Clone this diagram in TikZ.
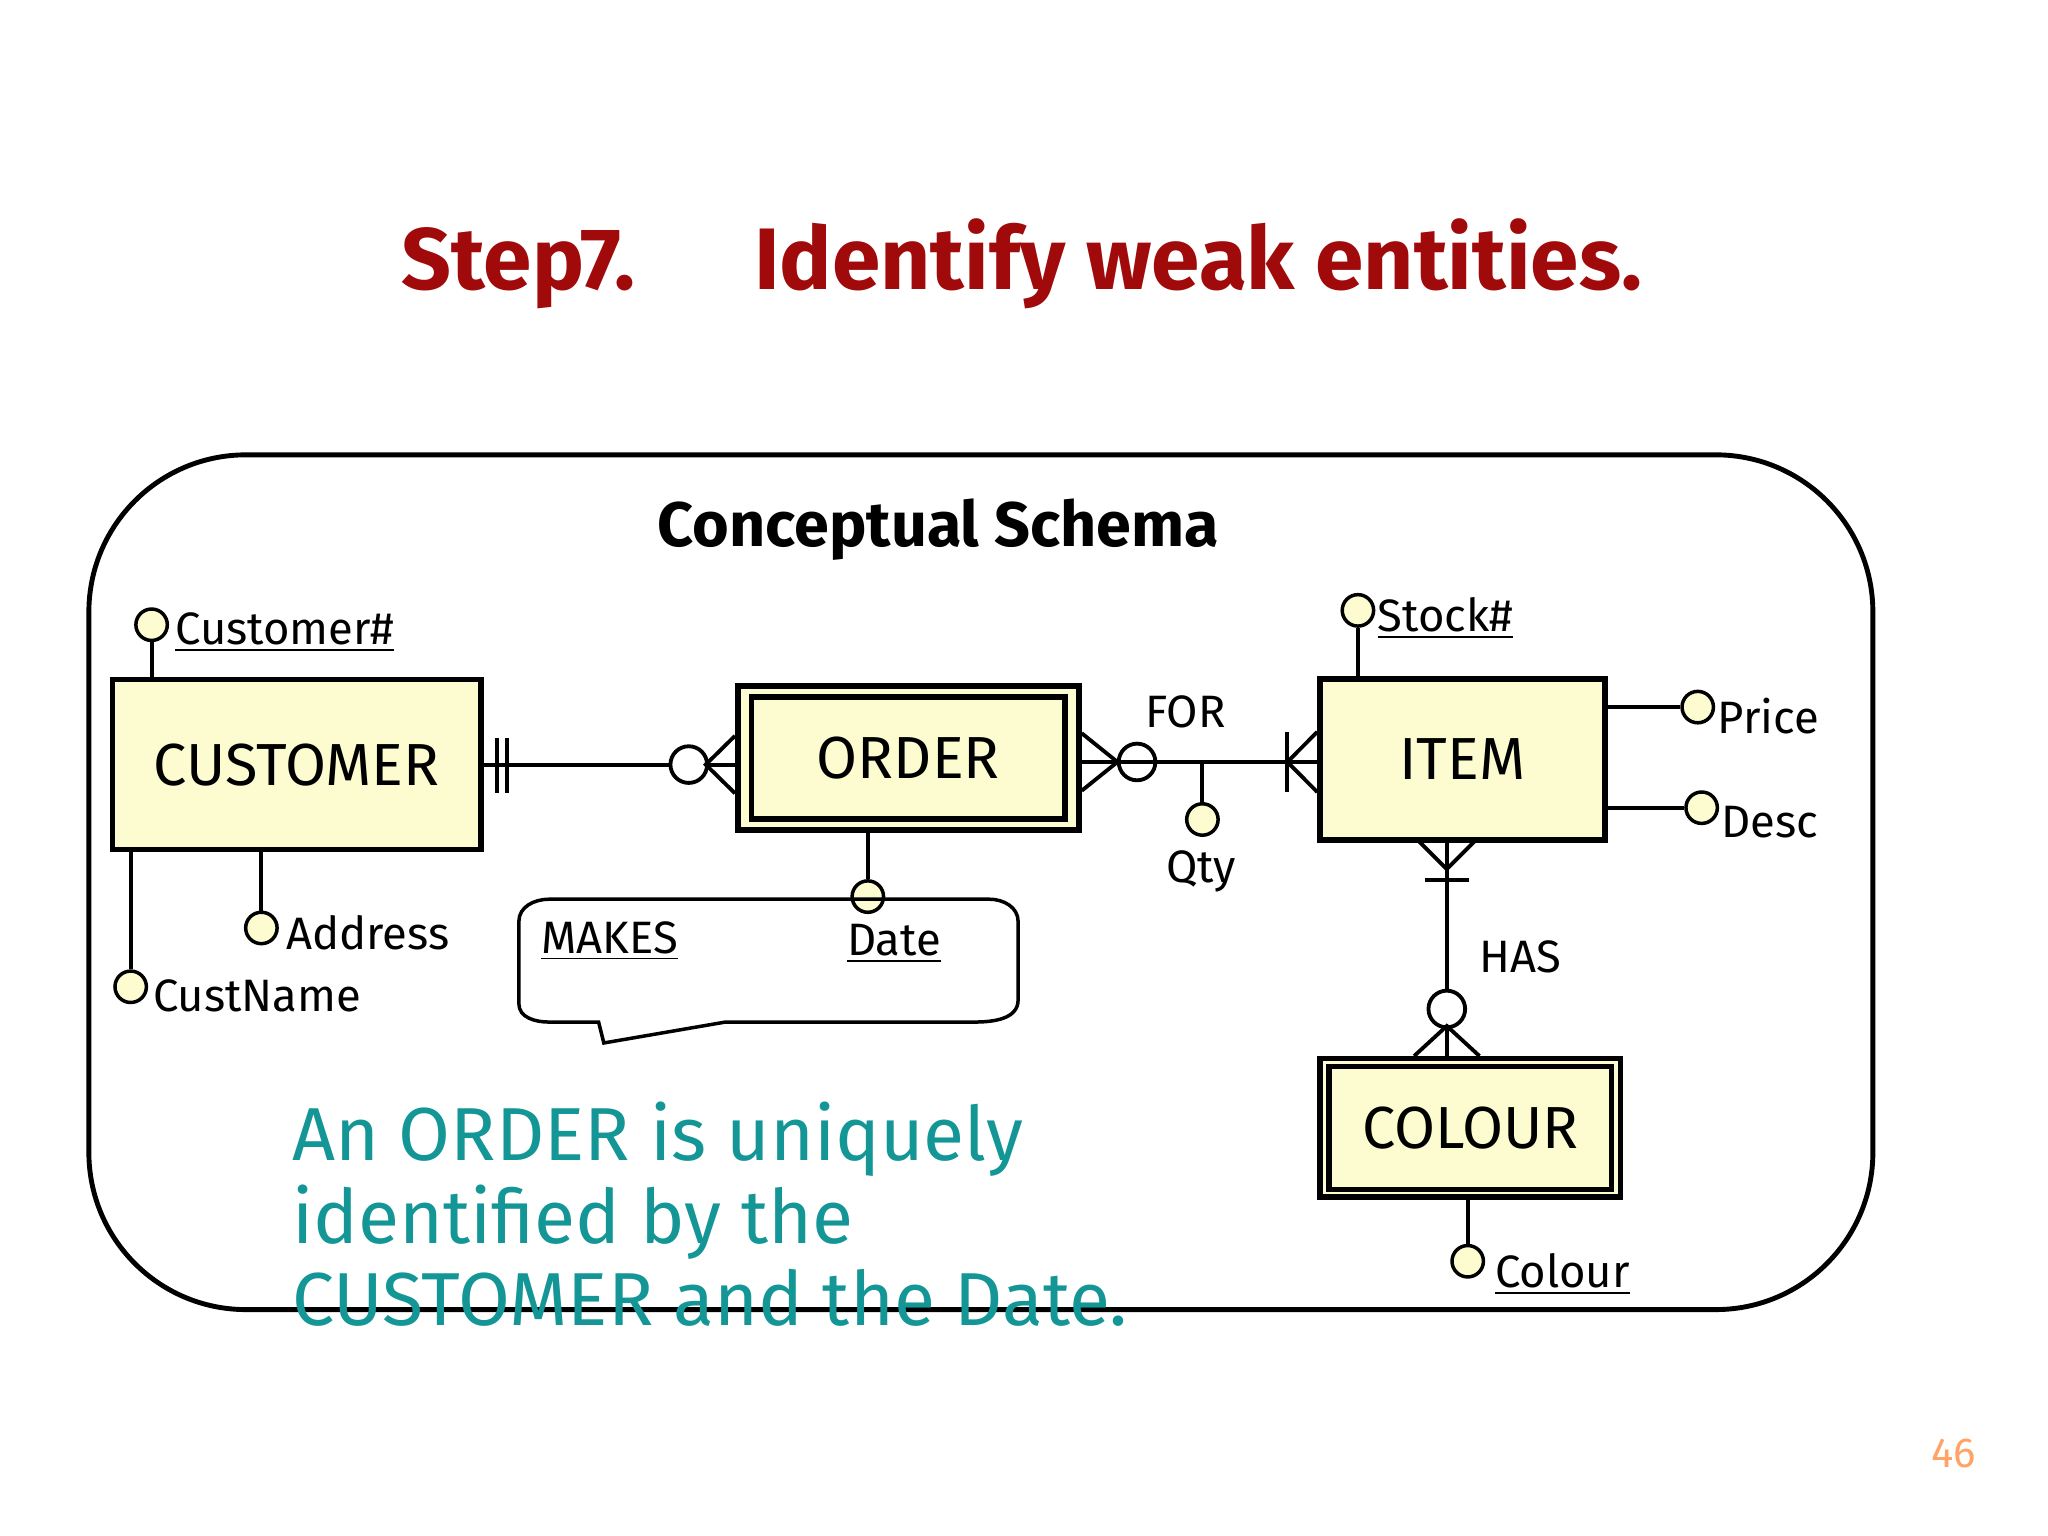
\documentclass[tikz,border=0pt]{standalone}
\usepackage{fontspec}
\setmainfont{Fira Sans}
\usetikzlibrary{positioning,calc}
\definecolor{ent}{RGB}{252,252,208}
\definecolor{title}{RGB}{160,10,10}
\definecolor{teal}{RGB}{20,150,150}
\begin{document}
\begin{tikzpicture}[x=0.01316cm,y=-0.01316cm,line width=1.1pt,
  entity/.style={draw,line width=1.6pt,fill=ent,inner sep=0pt,font=\fontsize{17}{17}\selectfont},
  wentity/.style={draw,line width=1.6pt,fill=ent,inner sep=0pt},
  inner/.style={draw,line width=1.6pt,inner sep=0pt,font=\fontsize{17}{17}\selectfont},
  attr/.style={circle,draw,fill=ent,inner sep=0pt,minimum size=9pt,line width=1pt},
  lab/.style={font=\fontsize{13}{13}\selectfont,anchor=west,inner sep=1pt},
  circ/.style={circle,draw,fill=white,inner sep=0pt,minimum size=10.5pt,line width=1.1pt}]
\useasboundingbox (0,0) rectangle (1567,1175);
\node[font=\bfseries\fontsize{25}{25}\selectfont,text=title] (t) at (782,202) {Step7.\hspace{1.2cm}Identify weak entities.};
\draw[line width=1.4pt,rounded corners=45pt] (68,348) rectangle (1433,1002);
\node[font=\bfseries\fontsize{18}{18}\selectfont] (cs) at (718,405) {Conceptual Schema};
% entities
\node[entity,minimum width=282*0.01316cm,minimum height=130*0.01316cm] (cust) at (227,585) {CUSTOMER};
\node[wentity,minimum width=261*0.01316cm,minimum height=110*0.01316cm] (ordo) at (695,580) {};
\node[inner,minimum width=240*0.01316cm,minimum height=93*0.01316cm] (ord) at (695,580) {ORDER};
\node[entity,minimum width=218*0.01316cm,minimum height=123*0.01316cm] (item) at (1119,581) {ITEM};
\node[wentity,minimum width=230*0.01316cm,minimum height=106*0.01316cm] (colo) at (1125,863) {};
\node[inner,minimum width=216*0.01316cm,minimum height=94*0.01316cm] (col) at (1125,863) {COLOUR};
% attributes
\node[attr] (a1) at (116,478) {}; \node[lab] (l1) at (130,484) {\underline{Customer\#}};
\draw (a1) -- (a1 |- cust.north);
\node[attr] (a2) at (200,710) {}; \node[lab] (l2) at (215,714) {Address};
\draw (a2) -- (a2 |- cust.south);
\node[attr] (a3) at (100,755) {}; \node[lab] (l3) at (113,762) {CustName};
\draw (a3) -- (a3 |- cust.south);
\node[attr] (a4) at (1039,467) {}; \node[lab] (l4) at (1050,473) {\underline{Stock\#}};
\draw (a4) -- (a4 |- item.north);
\node[attr] (a5) at (1299,541) {}; \node[lab] (l5) at (1310,548) {Price};
\draw (a5) -- (item.east |- a5);
\node[attr] (a6) at (1302,618) {}; \node[lab] (l6) at (1313,629) {Desc};
\draw (a6) -- (item.east |- a6);
\node[attr] (a7) at (664,686) {};
\draw (a7) -- (a7 |- ordo.south);
\node[attr] (a8) at (920,627) {}; \node[lab] (l8) at (888,667) {Qty};
\node[attr] (a9) at (1123,965) {}; \node[lab] (l9) at (1140,975) {\underline{Colour}};
\draw (a9) -- (a9 |- colo.south);
% MAKES callout
\draw[line width=1pt] (420,688) -- (757,688) to[out=0,in=90] (779,705) -- (779,765)
  to[out=-90,in=0] (745,782) -- (555,782) -- (462,798) -- (458,782) -- (420,782)
  to[out=180,in=-90] (397,768) -- (397,705) to[out=90,in=180] cycle;
\node[lab] (mk) at (410,720) {\underline{MAKES}};
\node[lab] (dt) at (644,722) {\underline{Date}};
% CUSTOMER - ORDER
\coordinate (c1) at (cust.east |- 0,585);
\coordinate (o1) at (ordo.west |- 0,585);
\draw (c1) -- (o1);
\draw (380,565) -- (380,607) (388,565) -- (388,607);
\node[circ] (k1) at (527,585) {};
\draw (o1 |- 0,563) -- (540,585) -- (o1 |- 0,607);
% ORDER - ITEM
\coordinate (o2) at (ordo.east |- 0,583);
\coordinate (i2) at (item.west |- 0,583);
\node[circ] (k2) at (870,583) {};
\draw (o2) -- (i2);
\draw (o2 |- 0,561) -- (855,583) -- (o2 |- 0,605);
\draw (i2 |- 0,560) -- (985,583) -- (i2 |- 0,606);
\draw (985,560) -- (985,606);
\draw (a8) -- (920,583);
\node[lab] (fr) at (872,545) {FOR};
% ITEM - COLOUR
\coordinate (i3) at (1107,643);
\coordinate (c3) at (1107,810);
\draw (i3) -- (c3);
\draw (1085,643) -- (1107,665) -- (1129,643);
\draw (1090,673) -- (1124,673);
\node[circ] (k3) at (1107,772) {};
\draw (1082,808) -- (1107,785) -- (1132,808);
\node[lab] (hs) at (1128,732) {HAS};
% note
\node[anchor=north west,align=left,text=teal,font=\fontsize{21.5}{23.5}\selectfont,inner sep=0pt] (nt) at (222,842)
  {An ORDER is uniquely\\identified by the\\CUSTOMER and the Date.};
\node[text=orange!80!red!60,font=\fontsize{12}{12}\selectfont] (pg) at (1495,1112) {46};
\end{tikzpicture}
\end{document}
